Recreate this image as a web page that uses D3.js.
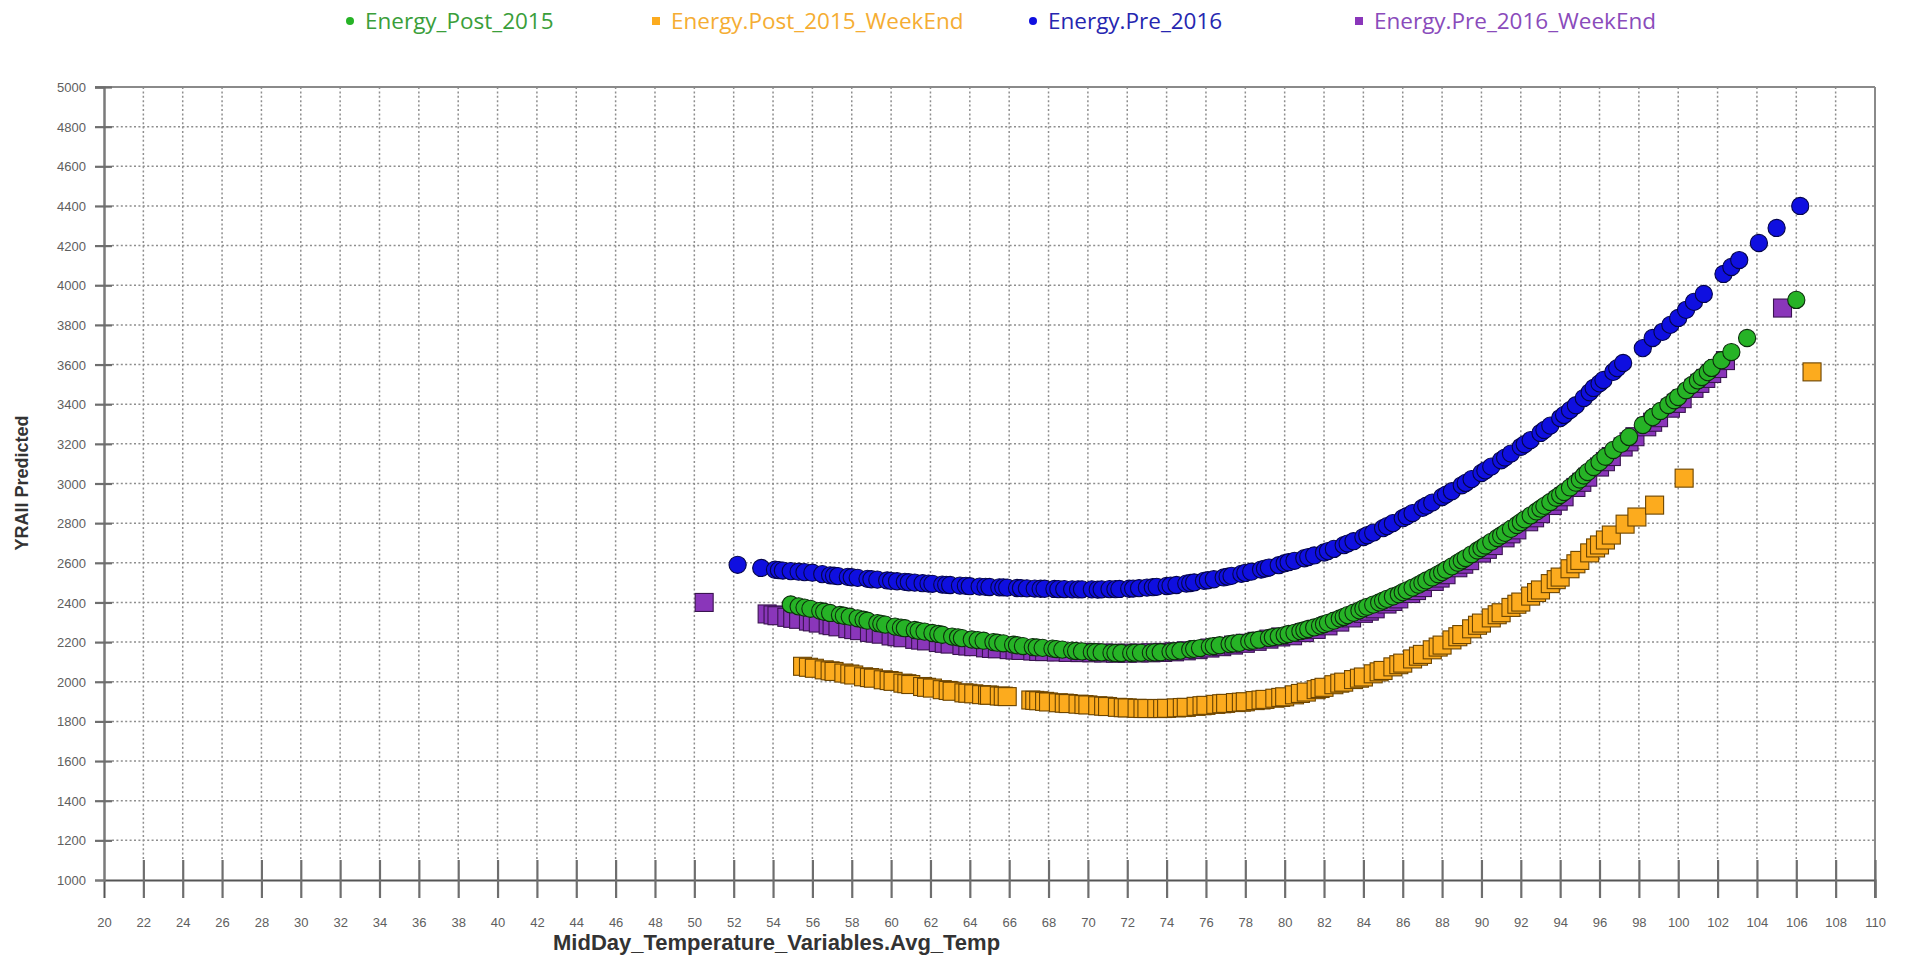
<!DOCTYPE html>
<html>
<head>
<meta charset="utf-8">
<script src="https://cdn.jsdelivr.net/npm/d3@7"></script>
<style>
  body { margin: 0; background: #fff; }
  svg { display: block; }
</style>
</head>
<body>
<svg id="chart" width="1906" height="960"></svg>
<script>
// Axis ticks
const xTickValues = d3.range(20, 111, 2);
const yTickValues = d3.range(1000, 5001, 200);

// Series: [temperature, predicted energy]
const energyPost2015 = [
  [54.9,2390],[55.3,2380],[55.6,2374],[55.9,2368],[56.4,2358],[56.6,2353],[56.9,2347],[57.4,2337],
  [57.6,2333],[57.9,2328],[58.3,2320],[58.6,2313],[58.8,2308],[59.3,2296],[59.5,2292],[59.7,2288],
  [60.2,2278],[60.5,2273],[60.7,2270],[61.2,2261],[61.4,2257],[61.7,2253],[62.1,2246],[62.4,2241],
  [62.6,2237],[63.1,2228],[63.4,2224],[63.6,2220],[64.1,2213],[64.4,2210],[64.7,2207],[65.2,2200],
  [65.4,2197],[65.7,2194],[66.2,2187],[66.4,2184],[66.7,2180],[67.2,2175],[67.4,2173],[67.7,2171],
  [68.2,2167],[68.4,2165],[68.7,2162],[69.2,2157],[69.4,2155],[69.7,2153],[70.2,2150],[70.4,2149],
  [70.7,2148],[71.2,2146],[71.4,2145],[71.7,2145],[72.2,2145],[72.4,2146],[72.7,2146],[73.2,2147],
  [73.4,2148],[73.7,2149],[74.2,2152],[74.4,2154],[74.7,2157],[75.2,2163],[75.4,2166],[75.7,2170],
  [76.2,2177],[76.4,2180],[76.7,2184],[77.2,2190],[77.4,2193],[77.7,2196],[78.2,2203],[78.4,2207],
  [78.7,2212],[79.2,2221],[79.4,2225],[79.7,2229],[80.0,2235],[80.2,2241],[80.5,2247],[80.8,2255],
  [81.0,2260],[81.2,2266],[81.5,2274],[81.8,2283],[82.0,2290],[82.2,2297],[82.5,2308],[82.8,2319],
  [83.0,2327],[83.2,2336],[83.5,2348],[83.8,2360],[84.0,2370],[84.2,2378],[84.5,2389],[84.8,2400],
  [85.0,2409],[85.2,2418],[85.5,2430],[85.8,2441],[86.0,2452],[86.2,2461],[86.5,2475],[86.8,2489],
  [87.0,2500],[87.2,2511],[87.5,2526],[87.8,2542],[88.0,2553],[88.2,2565],[88.5,2582],[88.8,2600],
  [89.0,2612],[89.2,2624],[89.5,2643],[89.8,2662],[90.0,2674],[90.2,2687],[90.5,2706],[90.8,2725],
  [91.0,2738],[91.2,2751],[91.5,2771],[91.8,2791],[92.0,2805],[92.2,2819],[92.5,2839],[92.8,2859],
  [93.0,2873],[93.2,2887],[93.5,2907],[93.8,2928],[94.0,2942],[94.2,2957],[94.5,2980],[94.8,3004],
  [95.0,3020],[95.2,3040],[95.4,3058],[95.7,3083],[96.0,3108],[96.3,3135],[96.7,3169],[97.1,3200],
  [97.5,3235],[98.2,3295],[98.7,3335],[99.1,3366],[99.5,3396],[99.8,3420],[100.0,3436],[100.4,3470],
  [100.7,3497],[101.0,3520],[101.2,3537],[101.5,3562],[101.7,3583],[102.2,3622],[102.7,3663],
  [103.5,3734],[106.0,3926]
];

const energyPost2015WeekEnd = [
  [55.5,2078],[55.8,2073],[56.1,2068],[56.6,2060],[56.9,2055],[57.1,2052],[57.6,2044],[57.9,2039],
  [58.1,2034],[58.6,2025],[58.9,2021],[59.1,2018],[59.6,2010],[59.9,2006],[60.1,2002],[60.6,1993],
  [60.8,1990],[61.0,1986],[61.6,1976],[61.8,1972],[62.1,1968],[62.6,1960],[62.9,1956],[63.1,1952],
  [63.7,1944],[63.9,1942],[64.2,1939],[64.6,1935],[64.9,1933],[65.0,1932],[65.5,1928],[65.7,1927],
  [65.9,1925],
  [67.1,1908],[67.3,1906],[67.5,1904],[67.8,1901],[68.0,1898],[68.5,1894],[68.8,1892],[69.0,1890],
  [69.5,1887],[69.8,1885],[70.0,1883],[70.5,1879],[70.8,1877],[71.0,1875],[71.5,1871],[71.8,1869],
  [72.0,1868],[72.5,1866],[72.8,1865],[73.0,1865],[73.5,1865],[73.8,1865],[74.0,1866],[74.5,1868],
  [74.8,1870],[75.0,1871],[75.5,1876],[75.8,1879],[76.0,1881],[76.5,1886],[76.8,1889],[77.0,1891],
  [77.5,1895],[77.8,1897],[78.0,1899],[78.5,1905],[78.8,1908],[79.0,1911],[79.5,1917],[79.8,1921],
  [80.0,1924],[80.5,1934],[80.8,1941],[81.1,1948],[81.6,1960],[81.8,1966],[82.0,1972],[82.5,1985],
  [82.8,1993],[83.0,1998],[83.5,2011],[83.8,2018],[84.0,2024],[84.5,2040],[84.8,2050],[85.0,2057],
  [85.5,2075],[85.8,2086],[86.0,2094],[86.5,2115],[86.8,2129],[87.0,2138],[87.5,2161],[87.8,2175],
  [88.0,2185],[88.5,2211],[88.8,2227],[89.0,2238],[89.5,2267],[89.8,2285],[90.0,2296],[90.5,2322],
  [90.8,2338],[91.0,2348],[91.5,2375],[91.8,2391],[92.0,2402],[92.5,2432],[92.8,2450],[93.0,2463],
  [93.5,2495],[93.8,2515],[94.0,2528],[94.5,2570],[94.8,2595],[95.0,2612],[95.5,2650],[95.8,2675],
  [96.0,2690],[96.3,2715],[96.6,2740],[97.3,2795],[97.9,2831],[98.8,2891],[100.3,3027],[106.8,3563]
];

const energyPre2016 = [
  [52.2,2590],[53.4,2574],[54.1,2565],[54.3,2563],[54.5,2561],[54.9,2558],[55.3,2555],[55.6,2553],
  [56.0,2550],[56.5,2543],[56.9,2537],[57.1,2535],[57.3,2533],[57.8,2529],[58.0,2527],[58.3,2524],
  [58.8,2519],[59.0,2517],[59.3,2515],[59.8,2511],[60.0,2509],[60.3,2507],[60.7,2504],[60.9,2502],
  [61.2,2500],[61.6,2497],[61.9,2495],[62.1,2494],[62.6,2490],[62.8,2489],[63.0,2488],[63.5,2485],
  [63.8,2484],[64.0,2482],[64.5,2480],[64.8,2479],[65.0,2478],[65.5,2476],[65.7,2476],[65.9,2475],
  [66.4,2473],[66.6,2472],[66.9,2471],[67.3,2470],[67.6,2469],[67.8,2469],[68.3,2468],[68.5,2467],
  [68.8,2467],[69.2,2466],[69.5,2466],[69.7,2466],[70.2,2466],[70.5,2465],[70.7,2466],[71.1,2467],
  [71.4,2467],[71.6,2468],[72.1,2469],[72.3,2470],[72.6,2472],[73.0,2475],[73.3,2477],[73.5,2479],
  [74.0,2483],[74.2,2485],[74.5,2488],[75.0,2495],[75.2,2498],[75.4,2501],[75.9,2509],[76.1,2512],
  [76.4,2517],[76.9,2526],[77.1,2530],[77.3,2534],[77.8,2544],[78.0,2549],[78.3,2555],[78.8,2566],
  [79.0,2571],[79.2,2576],[79.7,2588],[80.0,2598],[80.2,2603],[80.5,2610],[81.0,2623],[81.2,2629],
  [81.5,2637],[82.0,2652],[82.2,2659],[82.5,2670],[83.0,2689],[83.2,2697],[83.5,2709],[84.0,2730],
  [84.2,2739],[84.5,2752],[85.0,2775],[85.2,2785],[85.5,2800],[86.0,2825],[86.2,2835],[86.5,2851],
  [87.0,2877],[87.2,2888],[87.5,2904],[88.0,2932],[88.2,2944],[88.5,2961],[89.0,2991],[89.2,3003],
  [89.5,3022],[90.0,3053],[90.2,3066],[90.5,3085],[91.0,3117],[91.2,3131],[91.5,3151],[92.0,3185],
  [92.2,3198],[92.5,3219],[93.0,3255],[93.2,3270],[93.5,3292],[94.0,3330],[94.2,3346],[94.5,3370],
  [94.8,3395],[95.2,3431],[95.5,3460],[95.7,3482],[96.0,3505],[96.2,3522],[96.7,3563],[96.9,3582],
  [97.2,3608],[98.2,3683],[98.7,3734],[99.2,3765],[99.6,3800],[100.0,3835],[100.4,3876],[100.8,3916],
  [101.3,3956],[102.3,4057],[102.7,4092],[103.1,4127],[104.1,4213],[105.0,4289],[106.2,4400]
];

const energyPre2016WeekEnd = [
  [50.5,2400],[53.7,2342],[54.0,2337],[54.2,2333],[54.7,2325],[55.0,2320],[55.3,2315],[55.8,2306],
  [56.0,2302],[56.3,2296],[56.8,2287],[57.0,2283],[57.3,2277],[57.8,2268],[58.1,2263],[58.4,2258],
  [58.9,2249],[59.2,2245],[59.5,2240],[60.0,2231],[60.3,2227],[60.6,2222],[61.2,2214],[61.5,2210],
  [61.8,2206],[62.4,2198],[62.7,2194],[63.0,2190],[63.6,2183],[63.9,2180],[64.2,2177],[64.8,2171],
  [65.1,2168],[65.4,2166],[66.0,2162],[66.3,2160],[66.6,2158],[67.2,2155],[67.5,2153],[67.8,2152],
  [68.4,2150],[69.0,2148],[69.6,2147],[70.2,2146],[70.8,2145],[71.4,2144],[72.0,2144],[72.6,2145],
  [73.2,2146],[73.8,2148],[74.4,2151],[75.0,2156],[75.6,2162],[76.2,2170],[76.8,2177],[77.4,2185],
  [78.0,2194],[78.6,2204],[79.2,2215],[79.8,2226],[80.4,2232],[81.0,2248],[81.6,2264],[82.2,2282],
  [82.8,2301],[83.4,2322],[84.0,2345],[84.3,2356],[84.6,2368],[85.2,2392],[85.5,2405],[85.8,2418],
  [86.4,2445],[86.7,2460],[87.0,2475],[87.6,2506],[87.9,2523],[88.2,2540],[88.8,2575],[89.1,2593],
  [89.4,2611],[90.0,2649],[90.3,2668],[90.6,2687],[91.2,2726],[91.5,2746],[91.8,2766],[92.4,2807],
  [92.7,2827],[93.0,2848],[93.6,2889],[93.9,2911],[94.2,2933],[94.8,2980],[95.1,3006],[95.4,3032],
  [96.0,3083],[96.3,3110],[96.6,3136],[97.2,3184],[97.5,3210],[97.8,3236],[98.4,3286],[98.7,3309],
  [99.0,3332],[99.6,3380],[99.9,3404],[100.2,3428],[100.8,3480],[101.1,3505],[101.4,3530],
  [101.7,3555],[102.0,3580],[102.4,3620],[105.3,3885]
];

const seriesLabels = ["Energy_Post_2015", "Energy.Post_2015_WeekEnd", "Energy.Pre_2016", "Energy.Pre_2016_WeekEnd"];

const series = [
  { name: seriesLabels[0], data: energyPost2015,        shape: "circle", fill: "#26b326", stroke: "#0d2e0d", text: "#3a9e3a" },
  { name: seriesLabels[1], data: energyPost2015WeekEnd, shape: "square", fill: "#fcab1e", stroke: "#6b4400", text: "#f5ad33" },
  { name: seriesLabels[2], data: energyPre2016,         shape: "circle", fill: "#0f0fe0", stroke: "#05054a", text: "#2626b0" },
  { name: seriesLabels[3], data: energyPre2016WeekEnd,  shape: "square", fill: "#8a36ba", stroke: "#3a1450", text: "#8a4bbb" }
];
// Weekend-pre series sits underneath the post series
const drawOrder = [3, 1, 2, 0];

const svg = d3.select("#chart");
const plot = { left: 104, right: 1875, top: 87, bottom: 880 };

const x = d3.scaleLinear().domain([20, 110]).range([plot.left, plot.right]);
const y = d3.scaleLinear().domain([1000, 5000]).range([plot.bottom, plot.top]);

const gridStyle = sel => sel
  .attr("stroke", "#8e8e8e").attr("stroke-width", 1.5).attr("stroke-dasharray", "2,2.4");

// Dotted grid
const grid = svg.append("g");
grid.selectAll("line.vx")
  .data(xTickValues.filter(v => v > 20 && v < 110))
  .join("line")
  .attr("x1", d => x(d)).attr("x2", d => x(d))
  .attr("y1", plot.top).attr("y2", plot.bottom - 20)
  .call(gridStyle);
grid.selectAll("line.hy")
  .data(yTickValues.filter(v => v > 1000 && v < 5000))
  .join("line")
  .attr("x1", plot.left + 8).attr("x2", plot.right)
  .attr("y1", d => y(d)).attr("y2", d => y(d))
  .call(gridStyle);

// Frame: top and right borders
svg.append("line")
  .attr("x1", plot.left - 9).attr("x2", plot.right)
  .attr("y1", plot.top).attr("y2", plot.top)
  .attr("stroke", "#8a8a8a").attr("stroke-width", 2);
svg.append("line")
  .attr("x1", plot.right).attr("x2", plot.right)
  .attr("y1", plot.top).attr("y2", plot.bottom + 18)
  .attr("stroke", "#8a8a8a").attr("stroke-width", 2);

const tickFont = "Arial, 'Liberation Sans', sans-serif";

// X axis with ticks crossing the baseline
const xAxis = svg.append("g")
  .attr("transform", `translate(0,${plot.bottom})`)
  .call(d3.axisBottom(x).tickValues(xTickValues).tickFormat(d3.format("d")).tickSize(18).tickPadding(0));
xAxis.select(".domain").attr("stroke", "#555").attr("stroke-width", 2);
xAxis.selectAll(".tick line")
  .attr("y1", -20).attr("y2", 18)
  .attr("stroke", "#6e6e6e").attr("stroke-width", 2.2)
  .filter(d => d === 20).remove();
xAxis.selectAll(".tick text")
  .attr("y", 47).attr("dy", null)
  .attr("fill", "#5e5e5e").attr("font-family", tickFont).attr("font-size", 13);

// Y axis with ticks crossing the baseline
const yAxis = svg.append("g")
  .attr("transform", `translate(${plot.left},0)`)
  .call(d3.axisLeft(y).tickValues(yTickValues).tickFormat(d3.format("d")).tickSize(9).tickPadding(0));
yAxis.select(".domain").attr("stroke", "#7a7a7a").attr("stroke-width", 2.5);
yAxis.selectAll(".tick line")
  .attr("x1", -9).attr("x2", 8)
  .attr("stroke", "#6e6e6e").attr("stroke-width", 2.2)
  .filter(d => d === 1000).remove();
yAxis.selectAll(".tick text")
  .attr("x", -18).attr("dy", "0.35em")
  .attr("fill", "#5e5e5e").attr("font-family", tickFont).attr("font-size", 13);

// Markers, drawn left to right within each series
const markers = svg.append("g");
const circleR = 8.6, squareS = 18;
drawOrder.forEach(i => {
  const s = series[i];
  const pts = d3.sort(s.data, d => d[0]);
  const g = markers.append("g");
  if (s.shape === "circle") {
    g.selectAll("circle").data(pts).join("circle")
      .attr("cx", d => x(d[0])).attr("cy", d => y(d[1])).attr("r", circleR)
      .attr("fill", s.fill).attr("stroke", s.stroke).attr("stroke-width", 1.1);
  } else {
    g.selectAll("rect").data(pts).join("rect")
      .attr("x", d => x(d[0]) - squareS / 2).attr("y", d => y(d[1]) - squareS / 2)
      .attr("width", squareS).attr("height", squareS)
      .attr("fill", s.fill).attr("stroke", s.stroke).attr("stroke-width", 1.1);
  }
});

// Axis titles
svg.append("text")
  .attr("x", 553).attr("y", 950)
  .attr("font-family", tickFont)
  .attr("font-weight", "bold").attr("font-size", 22).attr("fill", "#333")
  .text("MidDay_Temperature_Variables.Avg_Temp");
svg.append("text")
  .attr("transform", "translate(28,483) rotate(-90)")
  .attr("text-anchor", "middle")
  .attr("font-family", tickFont)
  .attr("font-weight", "bold").attr("font-size", 18).attr("fill", "#333")
  .text("YRAll Predicted");

// Legend
const legendX = [350, 656, 1033, 1359];
const legend = svg.append("g");
series.forEach((s, i) => {
  const g = legend.append("g").attr("transform", `translate(${legendX[i]},21)`);
  if (s.shape === "circle") {
    g.append("circle").attr("r", 4).attr("fill", s.fill);
  } else {
    g.append("rect").attr("x", -4).attr("y", -4).attr("width", 8).attr("height", 8).attr("fill", s.fill);
  }
  g.append("text")
    .attr("x", 15).attr("dy", "0.35em")
    .attr("font-family", "'Open Sans', sans-serif").attr("font-size", 22.5)
    .attr("fill", s.text)
    .text(s.name);
});
</script>
</body>
</html>
